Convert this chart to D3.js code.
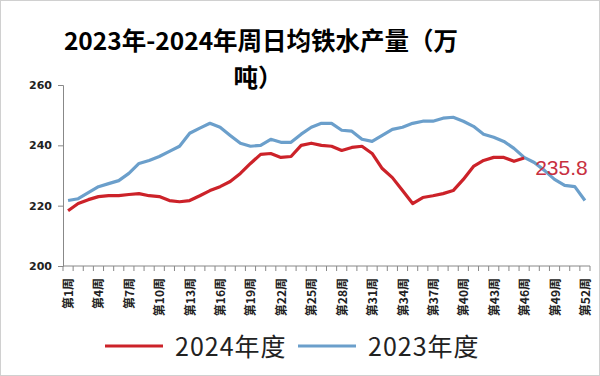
<!DOCTYPE html>
<html>
<head>
<meta charset="utf-8">
<script src="https://cdn.jsdelivr.net/npm/d3@7"></script>
<style>
  body { margin: 0; background: #fff; }
  svg { display: block; }
</style>
</head>
<body>
<svg id="chart" width="600" height="376"></svg>
<script>
// weekly average hot metal output (10k t)
var weeks = d3.range(1, 53).map(function(i) { return "第" + i + "周"; });
var tickWeeks = [1, 4, 7, 10, 13, 16, 19, 22, 25, 28, 31, 34, 37, 40, 43, 46, 49, 52];
var yTicks = [200, 220, 240, 260];

var values2024 = [218.3, 220.7, 222.0, 223.0, 223.3, 223.3, 223.7, 224.0, 223.3, 223.0,
                  221.7, 221.3, 221.7, 223.3, 225.0, 226.3, 228.0, 230.7, 234.0, 237.0,
                  237.3, 236.0, 236.3, 240.0, 240.7, 240.0, 239.7, 238.3, 239.3, 239.7,
                  237.3, 232.3, 229.3, 225.0, 220.7, 222.7, 223.3, 224.0, 225.0, 228.7,
                  233.0, 235.0, 236.0, 236.0, 234.7, 235.8];
var values2023 = [221.7, 222.3, 224.3, 226.3, 227.3, 228.3, 230.7, 234.0, 235.0, 236.3,
                  238.0, 239.7, 244.0, 245.7, 247.3, 246.0, 243.3, 240.7, 239.7, 240.0,
                  242.0, 241.0, 241.0, 243.7, 246.0, 247.3, 247.3, 245.0, 244.7, 242.0,
                  241.3, 243.3, 245.3, 246.0, 247.3, 248.0, 248.0, 249.0, 249.3, 248.0,
                  246.3, 243.7, 242.7, 241.3, 239.0, 236.0, 234.3, 231.7, 228.7, 226.7,
                  226.3, 221.7];

var series = [
    { name: "2024年度", values: values2024, color: "#cc2229" },
    { name: "2023年度", values: values2023, color: "#6b9fcb" }
];

var svg = d3.select("#chart"),
    width = +svg.attr("width"),
    height = +svg.attr("height");

var plot = { left: 63, right: 590, top: 85, bottom: 266 };

// frame
svg.append("rect")
    .attr("x", 0.5).attr("y", 0.5)
    .attr("width", width - 1).attr("height", height - 1)
    .attr("fill", "#fff")
    .attr("stroke", "#d0d0d0");

// title
var title = svg.append("text")
    .attr("text-anchor", "middle")
    .attr("font-family", "Noto Sans CJK SC")
    .attr("font-weight", 700)
    .attr("font-size", 24.5)
    .attr("fill", "#000");
title.append("tspan").attr("x", 261).attr("y", 50).text("2023年-2024年周日均铁水产量（万");
title.append("tspan").attr("x", 258).attr("y", 87).text("吨）");

var x = d3.scaleBand().domain(weeks).range([plot.left, plot.right]);
var y = d3.scaleLinear().domain([200, 260]).range([plot.bottom, plot.top]);

// y axis
var yAxis = svg.append("g")
    .attr("transform", "translate(" + plot.left + ",0)")
    .call(d3.axisLeft(y).tickValues(yTicks).tickSize(5).tickPadding(6));
yAxis.select(".domain").attr("stroke", "#888");
yAxis.selectAll(".tick line").attr("stroke", "#888");
yAxis.selectAll("text")
    .attr("font-family", "DejaVu Sans")
    .attr("font-weight", 700)
    .attr("font-size", 11)
    .attr("fill", "#222");

// x axis: ticks between categories, labels every third week
var xAxis = svg.append("g")
    .attr("transform", "translate(0," + plot.bottom + ")");
xAxis.append("line")
    .attr("x1", plot.left).attr("x2", plot.right)
    .attr("stroke", "#888");
xAxis.selectAll(".tk")
    .data(d3.range(0, 53))
    .enter().append("line")
    .attr("class", "tk")
    .attr("x1", function(i) { return plot.left + i * x.bandwidth(); })
    .attr("x2", function(i) { return plot.left + i * x.bandwidth(); })
    .attr("y1", 0).attr("y2", 5)
    .attr("stroke", "#888");
xAxis.selectAll(".lbl")
    .data(tickWeeks)
    .enter().append("text")
    .attr("class", "lbl")
    .attr("transform", function(d) {
        return "translate(" + (x(weeks[d - 1]) + x.bandwidth() / 2 + 5) + ",12) rotate(-90)";
    })
    .attr("text-anchor", "end")
    .attr("font-family", "Noto Sans CJK SC")
    .attr("font-weight", 700)
    .attr("font-size", 12)
    .attr("fill", "#222")
    .text(function(d) { return weeks[d - 1]; });

// lines
var line = d3.line()
    .x(function(d, i) { return x(weeks[i]) + x.bandwidth() / 2; })
    .y(function(d) { return y(d); });

svg.selectAll(".series")
    .data(series.slice().reverse())
    .enter().append("path")
    .attr("class", "series")
    .attr("d", function(s) { return line(s.values); })
    .attr("fill", "none")
    .attr("stroke", function(s) { return s.color; })
    .attr("stroke-width", 3.2)
    .attr("stroke-linejoin", "round");

// end label for 2024
var lastI = values2024.length - 1;
svg.append("text")
    .attr("x", x(weeks[lastI]) + x.bandwidth() / 2 + 11)
    .attr("y", y(values2024[lastI]) + 17)
    .attr("font-family", "Liberation Sans")
    .attr("font-size", 21)
    .attr("fill", "#c8303f")
    .text(values2024[lastI].toFixed(1));

// legend
var legend = svg.append("g");
var legendX = [105, 298];
series.forEach(function(s, i) {
    var g = legend.append("g").attr("transform", "translate(" + legendX[i] + ",346)");
    g.append("line")
        .attr("x1", 0).attr("x2", 58)
        .attr("stroke", s.color)
        .attr("stroke-width", 3);
    g.append("text")
        .attr("x", 70).attr("y", 10)
        .attr("font-family", "Noto Sans CJK SC")
        .attr("font-size", 25)
        .attr("letter-spacing", 1)
        .attr("fill", "#222")
        .text(s.name);
});
</script>
</body>
</html>
